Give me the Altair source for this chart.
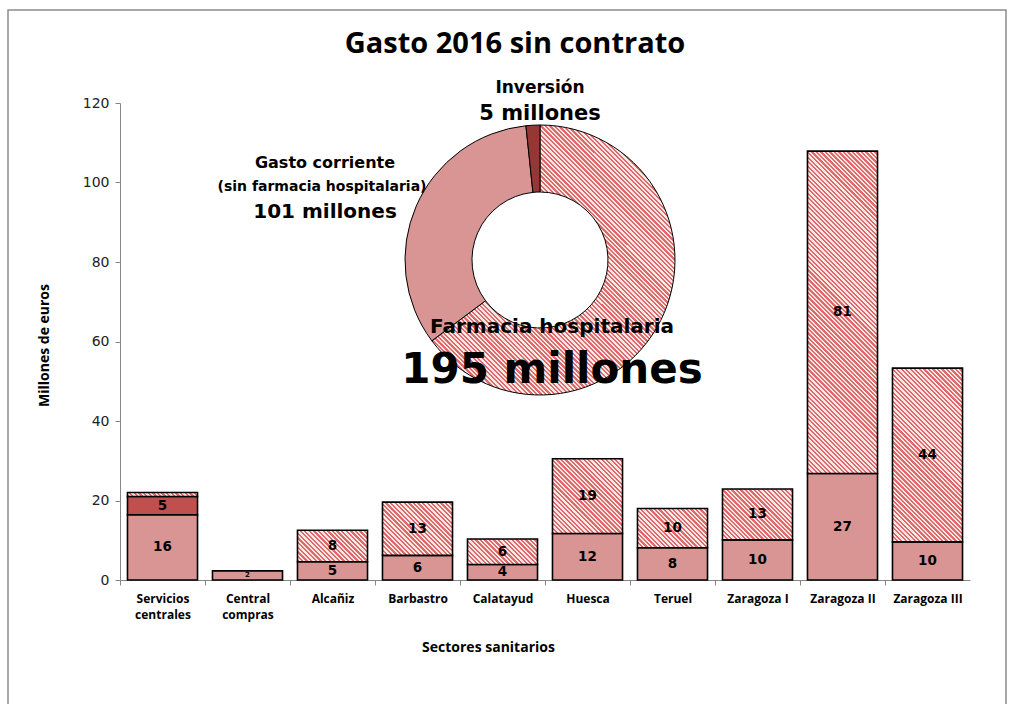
import math
import altair as alt
import pandas as pd

# ---------------- data ----------------
sectors = ["Servicios centrales", "Central compras", "Alcañiz", "Barbastro", "Calatayud",
           "Huesca", "Teruel", "Zaragoza I", "Zaragoza II", "Zaragoza III"]
gasto_corriente = [16.4, 2.3, 4.6, 6.2, 3.9, 11.7, 8.1, 10.1, 26.8, 9.6]
inversion = [4.6, 0, 0, 0, 0, 0, 0, 0, 0, 0]
farmacia = [1.0, 0, 7.9, 13.4, 6.4, 18.8, 9.9, 12.8, 81.1, 43.7]

donut_names = ["Farmacia hospitalaria", "Gasto corriente", "Inversión"]
donut_values = [195, 101, 5]

y_ticks = [0, 20, 40, 60, 80, 100, 120]
title_text = "Gasto 2016 sin contrato"

# ---------------- style / layout ----------------
W, H = 850, 477
PAD_L, PAD_T = 120, 103
Y_MAX = 120
P_INNER, P_OUTER = 0.176, 0.088
C_CORR = "#D99594"
C_INV_BAR = "#C0504D"
C_INV_DONUT = "#953735"
HATCH_FG = "#DE6A6A"
HATCH_BG = "#FAE6E6"
FONT_A = "DejaVu Sans"
FONT_B = "Open Sans"


def hatch(w, h, period=3.2):
    """Diagonal stripe fill ('\\' direction) built as a hard-stop linear gradient."""
    k = (w + h) / (w * w + h * h)
    n = max(1, round((w + h) / math.sqrt(2) / period))
    stops = []
    for i in range(n):
        a, b, c = i / n, (i + 0.5) / n, (i + 1) / n
        stops += [{"offset": a, "color": HATCH_FG}, {"offset": b, "color": HATCH_FG},
                  {"offset": b, "color": HATCH_BG}, {"offset": c, "color": HATCH_BG}]
    return {"gradient": "linear", "x1": 0, "y1": 1, "x2": k * w, "y2": 1 - k * h, "stops": stops}


# ---------------- tables ----------------
rows = []
for s, c, i, f in zip(sectors, gasto_corriente, inversion, farmacia):
    base = 0
    for seg, v in (("Gasto corriente", c), ("Inversión", i), ("Farmacia hospitalaria", f)):
        if v > 0:
            rows.append({"sector": s, "segment": seg, "value": v, "y0": base, "y1": base + v,
                         "mid": base + v / 2})
        base += v
bars = pd.DataFrame(rows)

step = W / (len(sectors) - P_INNER + 2 * P_OUTER)
bar_w = step * (1 - P_INNER)

x_enc = alt.X("sector:N", sort=sectors,
              scale=alt.Scale(paddingInner=P_INNER, paddingOuter=P_OUTER),
              axis=alt.Axis(title="Sectores sanitarios", labelAngle=0,
                            labelExpr="indexof(datum.value, 'Zaragoza') >= 0 ? datum.value : split(datum.value, ' ')",
                            labelFont=FONT_B, labelFontSize=12, labelFontWeight="bold", labelColor="#000000",
                            labelPadding=8, labelLineHeight=16,
                            domainColor="#868686", tickColor="#868686", tickSize=5,
                            tickOffset=-step / 2, labelOffset=step / 2,
                            titleFont=FONT_B, titleFontSize=14, titleFontWeight="bold", titleColor="#000000",
                            titleX=368, titleY=67, titleBaseline="middle"))
y_scale = alt.Scale(domain=[0, Y_MAX], nice=False)
y_enc = alt.Y("y0:Q", scale=y_scale,
              axis=alt.Axis(title="Millones de euros", values=y_ticks, grid=False,
                            labelFont=FONT_A, labelFontSize=14, labelColor="#222222", labelPadding=6,
                            domainColor="#868686", tickColor="#868686", tickSize=5,
                            titleFont=FONT_B, titleFontSize=14, titleFontWeight="bold", titleColor="#000000",
                            titleX=-76, titleY=242, titleAngle=-90, titleBaseline="middle", titleAlign="center"))

plain = alt.Chart(bars).transform_filter(
    alt.datum.segment != "Farmacia hospitalaria"
).mark_bar(stroke="#000000", strokeWidth=1.6).encode(
    x=x_enc, y=y_enc, y2="y1:Q",
    color=alt.Color("segment:N", scale=alt.Scale(domain=["Gasto corriente", "Inversión"],
                                                  range=[C_CORR, C_INV_BAR]), legend=None),
)

layers = [plain]
for s, f in zip(sectors, farmacia):
    if f <= 0:
        continue
    h_px = f / Y_MAX * H
    layers.append(
        alt.Chart(bars).transform_filter(
            (alt.datum.segment == "Farmacia hospitalaria") & (alt.datum.sector == s)
        ).mark_bar(stroke="#000000", strokeWidth=1.6, fill=hatch(bar_w, h_px)).encode(
            x=alt.X("sector:N", sort=sectors), y=alt.Y("y0:Q"), y2="y1:Q")
    )

labels = alt.Chart(bars).transform_filter(
    alt.datum.value >= 1.5
).transform_calculate(
    txt="format(datum.value, '.0f')"
).mark_text(font=FONT_A, fontWeight="bold", color="#000000", baseline="middle").encode(
    x=alt.X("sector:N", sort=sectors), y=alt.Y("mid:Q"), text="txt:N",
    size=alt.condition(alt.datum.value < 3, alt.value(7), alt.value(13.5)),
)
layers.append(labels)

# ---------------- donut ----------------
total = sum(donut_values)
drows, acc = [], 0
for n, v in zip(donut_names, donut_values):
    drows.append({"name": n, "value": v, "t0": acc, "t1": acc + v})
    acc += v
donut = pd.DataFrame(drows)

CX, CY, R_OUT, R_IN = 540 - PAD_L, 260 - PAD_T, 135, 68
theta = alt.Theta("t0:Q", stack=False, scale=alt.Scale(domain=[0, total], range=[0, 2 * math.pi]))
slice_fill = {"Farmacia hospitalaria": hatch(243, 270),
              "Gasto corriente": C_CORR, "Inversión": C_INV_DONUT}
for n in donut_names:
    layers.append(
        alt.Chart(donut).transform_filter(alt.datum.name == n).mark_arc(
            radius=R_OUT, radius2=R_IN, stroke="#000000", strokeWidth=1, fill=slice_fill[n]
        ).encode(theta=theta, theta2="t1:Q", x=alt.value(CX), y=alt.value(CY))
    )

# ---------------- annotations ----------------
ann_text = [
    title_text,
    "Inversión", f"{donut_values[2]} millones",
    "Gasto corriente", "(sin farmacia hospitalaria)", f"{donut_values[1]} millones",
    "Farmacia hospitalaria", f"{donut_values[0]} millones",
]
ann_font = [FONT_B, FONT_A, FONT_A, FONT_A, FONT_A, FONT_A, FONT_A, FONT_A]
ann_x = [515, 540, 540, 325, 322, 325, 552, 552]
ann_y = [44, 88, 114, 163, 187, 212, 327, 370]
ann_size = [29, 17, 21, 16, 14, 20, 20, 42]
for t, fnt, x, y, sz in zip(ann_text, ann_font, ann_x, ann_y, ann_size):
    layers.append(
        alt.Chart(pd.DataFrame({"t": [t]})).mark_text(
            font=fnt, fontWeight="bold", fontSize=sz, color="#000000", baseline="middle", align="center"
        ).encode(text="t:N", x=alt.value(x - PAD_L), y=alt.value(y - PAD_T))
    )

# outer frame
frame = alt.Chart(pd.DataFrame({"a": [0]})).mark_rect(
    fillOpacity=0, stroke="#8c8c8c", strokeWidth=1.5
).encode(x=alt.value(8 - PAD_L), x2=alt.value(1006 - PAD_L),
         y=alt.value(10 - PAD_T), y2=alt.value(760 - PAD_T))

chart = alt.layer(frame, *layers).properties(
    width=W, height=H,
    background="white",
    autosize=alt.AutoSizeParams(type="none"),
    padding={"left": PAD_L, "top": PAD_T, "right": 1010 - PAD_L - W, "bottom": 704 - PAD_T - H},
).configure_view(strokeWidth=0, stroke="transparent")

chart.save("out.html", embed_options={"renderer": "svg", "actions": False})
